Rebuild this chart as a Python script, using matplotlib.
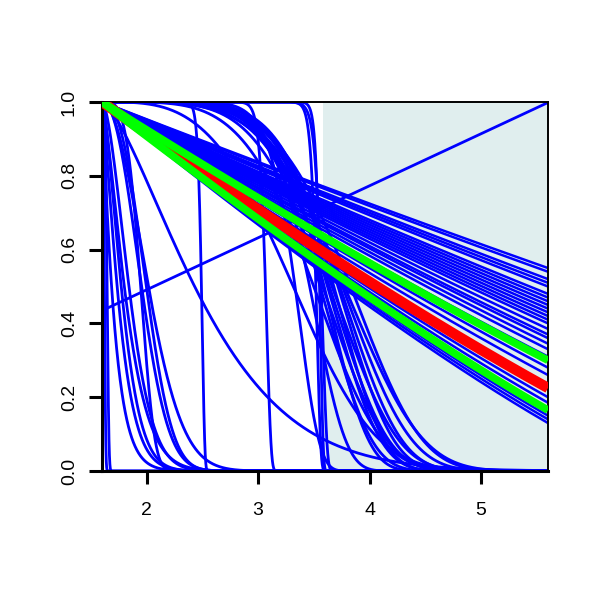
import numpy as np
import matplotlib.pyplot as plt

plt.rcParams['font.family'] = ['Liberation Sans', 'DejaVu Sans']

# x range of the curves
x_start = 1.6
x_stop = 5.6
shade_from = 3.58

# slowly decaying bundle: survival reached at x = 5.6
slow_end = [0.55, 0.54, 0.52, 0.51, 0.50, 0.48, 0.47, 0.46, 0.45, 0.44,
            0.43, 0.42, 0.41, 0.40, 0.385, 0.37, 0.36, 0.345, 0.33, 0.31,
            0.28, 0.26, 0.20, 0.185, 0.15, 0.14, 0.13]
slow_shape = 1.2
mean_end = 0.225
band_end = [0.30, 0.165]

# early drops near the left edge (weibull scale / shape)
early_scale = [0.025, 0.05, 0.12, 0.18, 0.22, 0.26, 0.30, 0.38, 0.42, 0.46, 0.50, 1.07]
early_shape = [3.0, 4.0, 1.1, 1.3, 1.5, 1.4, 1.7, 4.0, 2.2, 2.5, 2.0, 1.45]

# near vertical steps
step_scale = [0.90, 1.48, 1.93, 1.96, 1.98]
step_shape = [40, 40, 60, 80, 50]

# late arcs dropping around x = 3.5 - 4
late_scale = [1.79, 1.91, 1.95, 2.06, 2.08, 2.10, 2.13, 2.15, 2.18, 2.20,
              2.22, 2.25, 2.28, 2.32, 2.36, 2.40]
late_shape = [11, 3.4, 8, 4.5, 6, 7, 5, 6, 5.5, 6.5, 5, 6, 5.5, 5, 4.5, 5]

# straight reference line
ref_intercept = 0.209
ref_slope = 0.141

x = np.linspace(x_start, x_stop, 3000)


def slow_curve(y_end):
    span = x_stop - x_start
    T = span / (1 - y_end ** (1 / slow_shape))
    return np.clip(1 - (x - x_start) / T, 0, None) ** slow_shape


def weibull(scale, shape):
    t = np.clip(x - x_start, 0, None)
    return np.exp(-(t / scale) ** shape)


fig = plt.figure(figsize=(6, 6), dpi=100)
ax = fig.add_axes([102 / 600, 129 / 600, 446 / 600, 369 / 600])

ax.axvspan(shade_from, x_stop, color='#E0EEEE', zorder=0, lw=0)

blue = dict(color='#0000FF', lw=2.0, zorder=2)
for e in slow_end:
    ax.plot(x, slow_curve(e), color='#0000FF', lw=1.8, zorder=2)
for s, k in zip(early_scale, early_shape):
    ax.plot(x, weibull(s, k), **blue)
for s, k in zip(step_scale, step_shape):
    ax.plot(x, weibull(s, k), **blue)
for s, k in zip(late_scale, late_shape):
    ax.plot(x, weibull(s, k), **blue)
ax.axline((0, ref_intercept), slope=ref_slope, **blue)

ax.plot(x, slow_curve(mean_end), color='#FF0000', lw=7.5, zorder=3, solid_capstyle='butt')
for e in band_end:
    ax.plot(x, slow_curve(e), color='#00FF00', lw=5.5, zorder=4, solid_capstyle='butt')

ax.set_xlim(x_start, x_stop)
ax.set_ylim(0, 1)
ax.set_xticks([2, 3, 4, 5])
ax.set_yticks([0, 0.2, 0.4, 0.6, 0.8, 1.0])
ax.set_yticklabels(['0.0', '0.2', '0.4', '0.6', '0.8', '1.0'], rotation=90, va='center')
ax.tick_params(length=9.4, width=2.2, labelsize=14)
ax.tick_params(axis='x', pad=13)
ax.tick_params(axis='y', pad=8)
for side in ['left', 'bottom']:
    ax.spines[side].set_linewidth(2.2)
for side in ['top', 'right']:
    ax.spines[side].set_linewidth(1.4)

plt.savefig('out.png', dpi=100)
